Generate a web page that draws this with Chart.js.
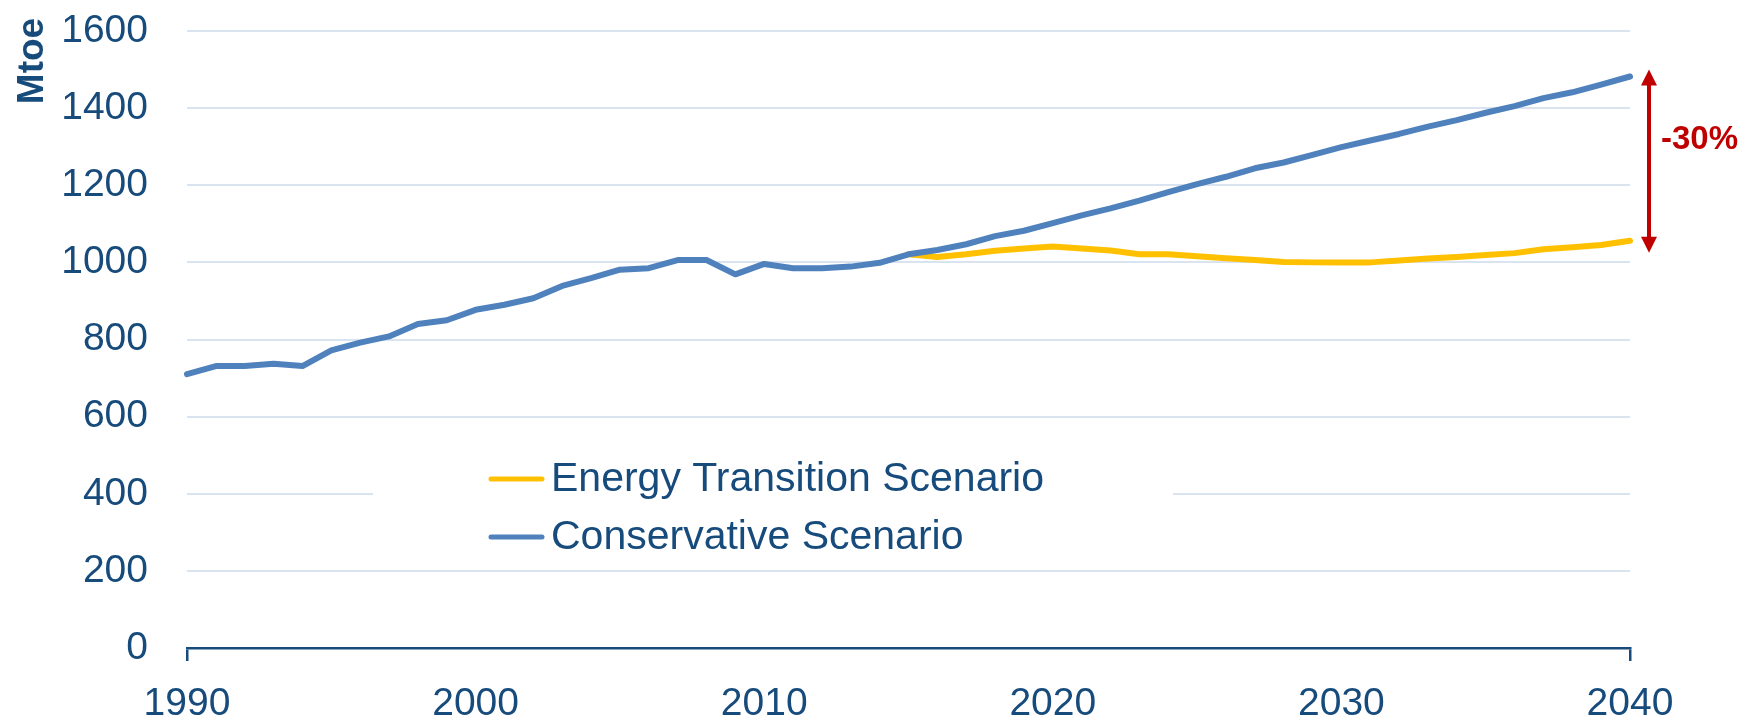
<!DOCTYPE html>
<html>
<head>
<meta charset="utf-8">
<script src="https://cdn.jsdelivr.net/npm/chart.js@4/dist/chart.umd.min.js"></script>
<style>
  html, body { margin: 0; padding: 0; background: #fff; }
  canvas { display: block; }
</style>
</head>
<body>
<canvas id="myChart" width="1747" height="725"></canvas>
<script>
const years = [1990, 1991, 1992, 1993, 1994, 1995, 1996, 1997, 1998, 1999,
  2000, 2001, 2002, 2003, 2004, 2005, 2006, 2007, 2008, 2009,
  2010, 2011, 2012, 2013, 2014, 2015, 2016, 2017, 2018, 2019,
  2020, 2021, 2022, 2023, 2024, 2025, 2026, 2027, 2028, 2029,
  2030, 2031, 2032, 2033, 2034, 2035, 2036, 2037, 2038, 2039, 2040];

// Mtoe
const conservative = [710, 731, 731, 737, 731, 772, 792, 808, 840, 850,
  877, 890, 907, 939, 959, 981, 985, 1006, 1006, 969,
  996, 985, 985, 989, 999, 1021, 1032, 1047, 1068, 1082,
  1102, 1122, 1140, 1160, 1182, 1203, 1222, 1244, 1259, 1279,
  1299, 1316, 1333, 1352, 1369, 1388, 1405, 1426, 1441, 1461, 1482];

const energyTransition = [null, null, null, null, null, null, null, null, null, null,
  null, null, null, null, null, null, null, null, null, null,
  null, null, null, null, null, 1021, 1014, 1021, 1030, 1036,
  1041, 1036, 1031, 1021, 1021, 1016, 1011, 1006, 1001, 1000,
  1000, 1000, 1005, 1010, 1014, 1019, 1024, 1034, 1039, 1045, 1056];

const seriesNames = ['Energy Transition Scenario', 'Conservative Scenario'];
const yTicks = [0, 200, 400, 600, 800, 1000, 1200, 1400, 1600];
const gapLabel = '-30%';

const navy = '#174B7C';
const FONT = "'Liberation Sans', Arial, sans-serif";

// legend box + Mtoe label + red arrow
const extras = {
  id: 'extras',
  beforeDatasetsDraw(chart) {
    const c = chart.ctx;
    c.save();
    c.fillStyle = '#fff';
    c.fillRect(373, 444, 800, 112);
    const rows = [479, 537];
    chart.data.datasets.forEach((ds, i) => {
      c.strokeStyle = ds.borderColor;
      c.lineWidth = 5;
      c.lineCap = 'round';
      c.beginPath();
      c.moveTo(491, rows[i]);
      c.lineTo(542, rows[i]);
      c.stroke();
      c.fillStyle = navy;
      c.font = '41px ' + FONT;
      c.textBaseline = 'middle';
      c.textAlign = 'left';
      c.fillText(ds.label, 551, rows[i] + 1);
    });
    c.restore();
  },
  afterDraw(chart) {
    const c = chart.ctx;
    const y = chart.scales.y;
    const area = chart.chartArea;
    c.save();
    // axis title
    c.translate(33, 61);
    c.rotate(-Math.PI / 2);
    c.fillStyle = navy;
    c.font = 'bold 37px ' + FONT;
    c.textAlign = 'center';
    c.textBaseline = 'middle';
    c.fillText('Mtoe', 0, 0);
    c.restore();

    // arrow between the two end values
    const last = years.length - 1;
    const yTop = y.getPixelForValue(conservative[last]) - 7;
    const yBot = y.getPixelForValue(energyTransition[last]) + 12;
    const ax = area.right + 19;
    const red = '#C00000';
    c.save();
    c.strokeStyle = red;
    c.fillStyle = red;
    c.lineWidth = 4;
    c.beginPath();
    c.moveTo(ax, yTop + 12);
    c.lineTo(ax, yBot - 12);
    c.stroke();
    c.beginPath();
    c.moveTo(ax, yTop);
    c.lineTo(ax - 8, yTop + 16);
    c.lineTo(ax + 8, yTop + 16);
    c.closePath();
    c.fill();
    c.beginPath();
    c.moveTo(ax, yBot);
    c.lineTo(ax - 8, yBot - 16);
    c.lineTo(ax + 8, yBot - 16);
    c.closePath();
    c.fill();
    c.font = 'bold 33px ' + FONT;
    c.textAlign = 'left';
    c.textBaseline = 'middle';
    c.fillText(gapLabel, ax + 12, yTop + 70);
    c.restore();
  }
};

const ctx = document.getElementById('myChart').getContext('2d');

new Chart(ctx, {
  type: 'line',
  data: {
    labels: years,
    datasets: [{
      label: seriesNames[0],
      data: energyTransition,
      borderColor: '#FFC000',
      backgroundColor: '#FFC000',
      borderWidth: 6,
      pointRadius: 0,
      tension: 0,
      borderCapStyle: 'round',
      borderJoinStyle: 'round',
      order: 1
    }, {
      label: seriesNames[1],
      data: conservative,
      borderColor: '#4F81BD',
      backgroundColor: '#4F81BD',
      borderWidth: 6,
      pointRadius: 0,
      tension: 0,
      borderCapStyle: 'round',
      borderJoinStyle: 'round',
      order: 0
    }]
  },
  options: {
    responsive: false,
    animation: false,
    layout: { padding: { left: 62, right: 117, top: 31, bottom: 0 } },
    plugins: {
      legend: { display: false },
      tooltip: { enabled: false }
    },
    scales: {
      x: {
        type: 'category',
        offset: false,
        grid: {
          drawOnChartArea: false,
          offset: false,
          tickLength: 13,
          lineWidth: 2.5,
          color: c => (c.index === 0 || c.index === years.length - 1) ? navy : 'rgba(0,0,0,0)'
        },
        border: { color: navy, width: 2.5 },
        ticks: {
          autoSkip: false,
          maxRotation: 0,
          padding: 20,
          color: navy,
          font: { family: FONT, size: 39 },
          callback: (v, i) => years[i] % 10 === 0 ? years[i] : ''
        },
        afterFit: s => { s.height = 77; }
      },
      y: {
        min: 0,
        max: 1600,
        afterBuildTicks: s => { s.ticks = yTicks.map(v => ({ value: v })); },
        grid: { color: '#DAE3F0', lineWidth: 2, drawTicks: false },
        border: { display: false },
        ticks: {
          padding: 39,
          color: navy,
          font: { family: FONT, size: 39 },
          callback: v => String(v)
        },
        afterFit: s => { s.width = 125; s.paddingTop = 0; s.paddingBottom = 0; }
      }
    }
  },
  plugins: [extras]
});
</script>
</body>
</html>
